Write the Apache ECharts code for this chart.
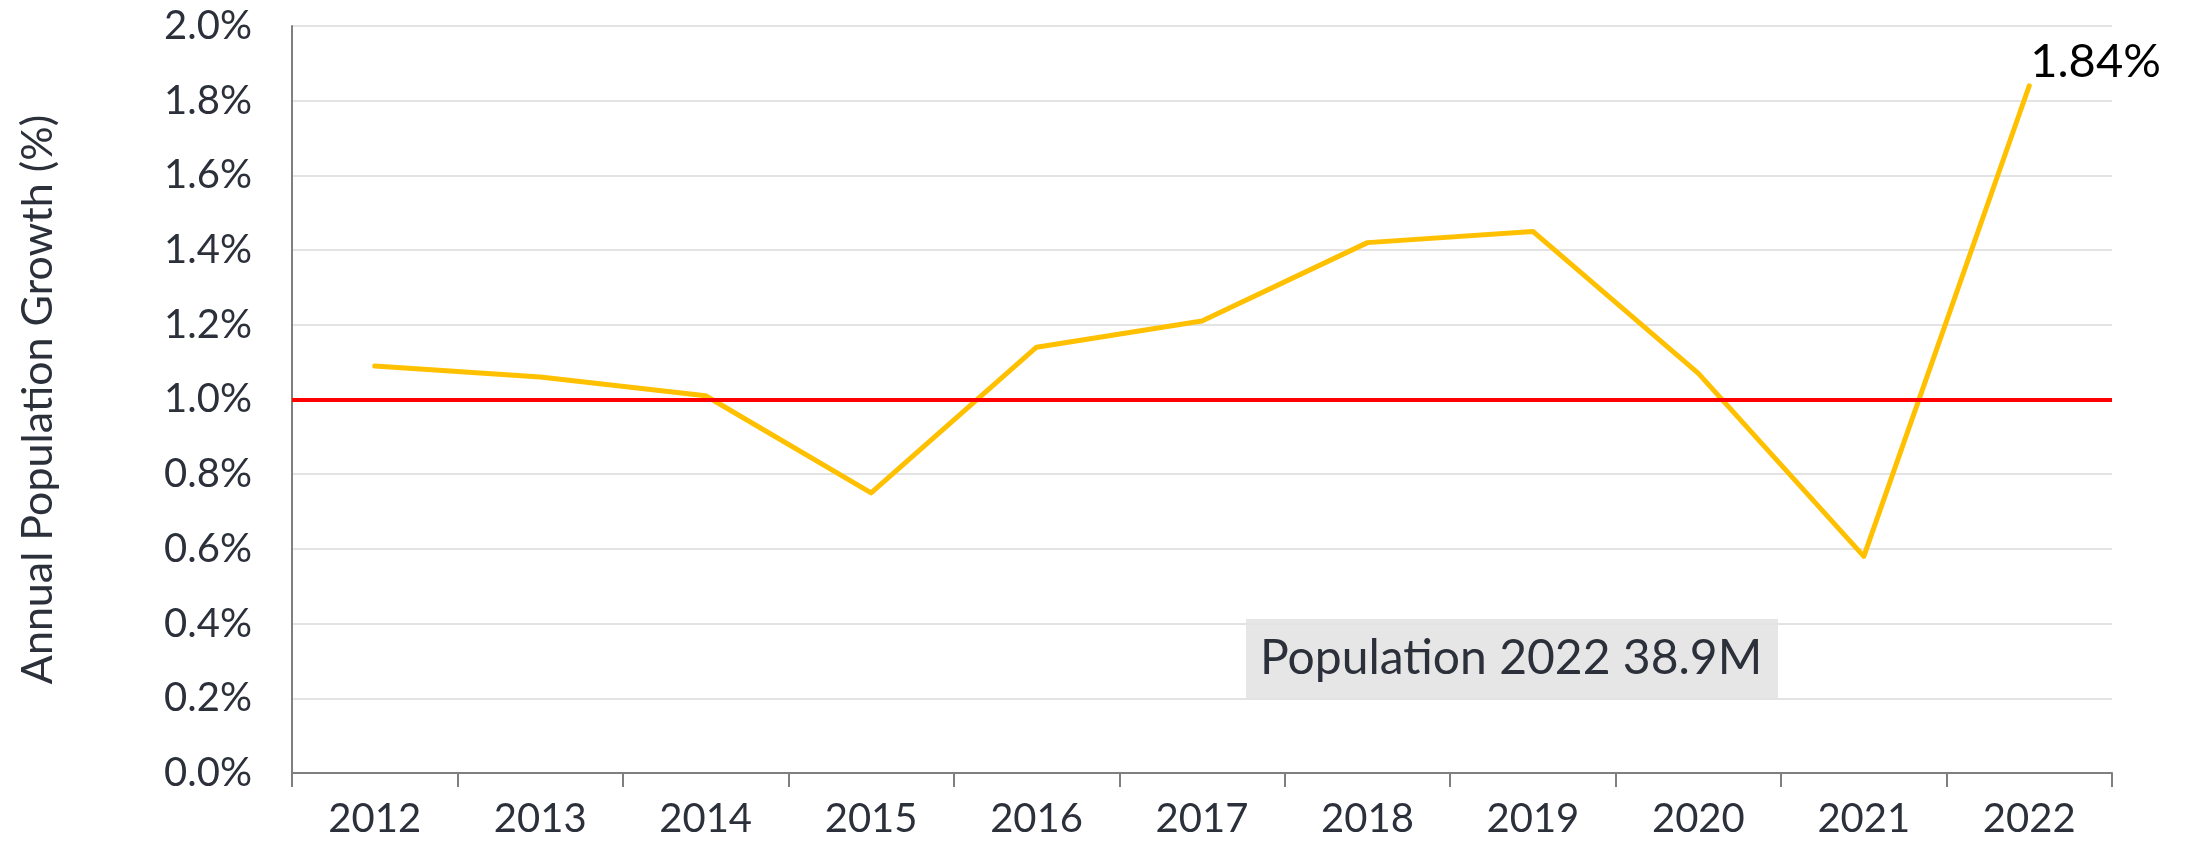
<!DOCTYPE html>
<html>
<head>
<meta charset="utf-8">
<script src="https://cdn.jsdelivr.net/npm/echarts@6/dist/echarts.min.js"></script>
<style>
html,body{margin:0;padding:0;background:#fff;}
#chart{width:2190px;height:849px;}
</style>
</head>
<body>
<div id="chart"></div>
<script>
const years = ['2012','2013','2014','2015','2016','2017','2018','2019','2020','2021','2022'];
const growth = [1.09, 1.06, 1.01, 0.75, 1.14, 1.21, 1.42, 1.45, 1.07, 0.58, 1.84];
const referenceLevel = 1.0;
const yTitle = 'Annual Population Growth (%)';
const noteText = 'Population 2022 38.9M';

const chart = echarts.init(document.getElementById('chart'));
chart.setOption({
  animation: false,
  textStyle: { fontFamily: 'Lato' },
  grid: { left: 292, right: 78, top: 26, bottom: 76, containLabel: false },
  xAxis: {
    type: 'category',
    data: years,
    boundaryGap: true,
    axisLine: { lineStyle: { color: '#7f7f7f', width: 2 } },
    axisTick: { show: true, length: 14, lineStyle: { color: '#7f7f7f', width: 2 } },
    axisLabel: { color: '#2b303a', fontSize: 40, fontFamily: 'Lato', margin: 26 },
    splitLine: { show: false }
  },
  yAxis: {
    type: 'value',
    min: 0, max: 2.0, interval: 0.2,
    name: yTitle,
    nameLocation: 'middle',
    nameGap: 232,
    nameTextStyle: { color: '#2b303a', fontSize: 43, fontFamily: 'Lato' },
    axisLine: { show: true, lineStyle: { color: '#7f7f7f', width: 2 } },
    axisTick: { show: false },
    axisLabel: { color: '#2b303a', fontSize: 40, fontFamily: 'Lato', margin: 40,
      formatter: v => v.toFixed(1) + '%' },
    splitLine: { show: true, lineStyle: { color: '#e3e3e3', width: 2 } }
  },
  series: [{
    type: 'line',
    data: growth,
    showSymbol: false,
    lineStyle: { color: '#FFC000', width: 5, cap: 'round', join: 'round' },
    itemStyle: { color: '#FFC000' },
    emphasis: { disabled: true },
    endLabel: {
      show: true,
      distance: 0,
      offset: [1, -24],
      formatter: p => Number(p.value).toFixed(2) + '%',
      color: '#000',
      fontSize: 47,
      fontFamily: 'Lato'
    },
    markLine: {
      silent: true,
      symbol: 'none',
      label: { show: false },
      lineStyle: { color: '#FF0000', width: 4, type: 'solid' },
      emphasis: { disabled: true },
      data: [{ yAxis: referenceLevel }]
    },
    z: 3
  }],
  graphic: [{
    type: 'group',
    left: 1246, top: 619,
    children: [
      { type: 'rect', shape: { x: 0, y: 0, width: 532, height: 80 }, style: { fill: '#e6e6e6' } },
      { type: 'text', x: 14, y: 40, style: { text: noteText, fill: '#2b303a', font: '48px Lato', textVerticalAlign: 'middle', verticalAlign: 'middle' } }
    ]
  }]
});
</script>
</body>
</html>
